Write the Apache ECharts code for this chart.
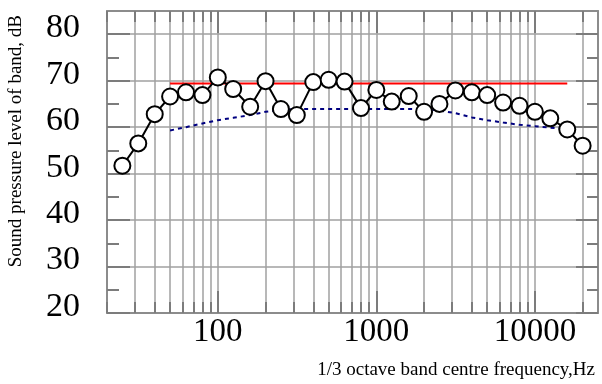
<!DOCTYPE html>
<html>
<head>
<meta charset="utf-8">
<script src="https://cdn.jsdelivr.net/npm/echarts@6/dist/echarts.min.js"></script>
<style>
  html, body { margin: 0; padding: 0; background: #fff; }
  #chart { width: 602px; height: 384px; }
</style>
</head>
<body>
<div id="chart"></div>
<script>
// 1/3 octave band centre frequencies, Hz
var bandFreqs = [25, 31.5, 40, 50, 63, 80, 100, 125, 160, 200, 250, 315, 400, 500, 630,
  800, 1000, 1250, 1600, 2000, 2500, 3150, 4000, 5000, 6300, 8000, 10000, 12500, 16000, 20000];
// Measured band levels, dB
var bandLevels = [51.7, 56.5, 62.8, 66.6, 67.5, 66.9, 70.7, 68.2, 64.4, 69.9, 63.9, 62.6, 69.7, 70.2, 69.8,
  64.1, 68.0, 65.5, 66.7, 63.3, 65.0, 67.9, 67.5, 66.9, 65.3, 64.6, 63.3, 61.9, 59.5, 56.0];

// Upper limit (solid red) across 50 Hz - 16 kHz
var limitFreqs = [50, 16000];
var limitLevels = [69.4, 69.4];

// Lower reference curve (dotted blue), 50 Hz - 16 kHz
var refFreqs = [50, 63, 80, 100, 125, 160, 200, 250, 315, 400, 500, 630, 800, 1000, 1250, 1600, 2000,
  2500, 3150, 4000, 5000, 6300, 8000, 10000, 12500, 16000];
var refLevels = [59.3, 60.0, 60.8, 61.5, 62.0, 62.6, 63.3, 63.7, 63.9, 63.9, 63.9, 63.9, 63.9, 63.9, 63.9, 63.9, 63.9,
  63.6, 63.0, 62.1, 61.5, 61.0, 60.5, 60.2, 59.9, 59.6];

// Axis ticks
var xGridTicks = [20, 30, 40, 50, 60, 70, 80, 90, 100, 200, 300, 400, 500, 600, 700, 800, 900,
  1000, 2000, 3000, 4000, 5000, 6000, 7000, 8000, 9000, 10000, 20000];
var xDecadeTicks = [100, 1000, 10000];
var yMajorTicks = [20, 30, 40, 50, 60, 70, 80];
var yMinorTicks = [25, 35, 45, 55, 65, 75];

function pairs(xs, ys) {
  return xs.map(function (x, i) { return [x, ys[i]]; });
}

var serif = "'Liberation Serif', 'Times New Roman', serif";
var frameColor = '#8c8c8c';
var tickColor = '#7c7c7c';
var gridColor = '#a0a0a0';

function xAxisDef(pos, ticks, len, showLine, showSplit, showLabel) {
  return {
    type: 'log', logBase: 10, min: 20, max: 25000, position: pos,
    axisLine: { show: showLine, onZero: false, lineStyle: { color: frameColor, width: 2 } },
    axisTick: { show: true, inside: true, length: len, customValues: ticks,
      lineStyle: { color: tickColor, width: 2 } },
    splitLine: { show: showSplit, lineStyle: { color: gridColor, width: 1.5 } },
    minorTick: { show: false }, minorSplitLine: { show: false },
    axisLabel: showLabel ? { show: true, customValues: xDecadeTicks, margin: 3,
      fontFamily: serif, fontSize: 33, color: '#000',
      formatter: function (v) { return String(Math.round(v)); } } : { show: false }
  };
}

function yAxisDef(pos, ticks, len, showLine, showSplit, showLabel) {
  return {
    type: 'value', min: 20, max: 85, interval: 10, position: pos,
    axisLine: { show: showLine, onZero: false, lineStyle: { color: frameColor, width: 2 } },
    axisTick: { show: true, inside: true, length: len, customValues: ticks,
      lineStyle: { color: tickColor, width: 2 } },
    splitLine: { show: showSplit, lineStyle: { color: gridColor, width: 1.5 } },
    axisLabel: showLabel ? { show: true, customValues: yMajorTicks, margin: 27,
      fontFamily: serif, fontSize: 34, color: '#000',
      verticalAlign: 'bottom', lineHeight: 12 } : { show: false }
  };
}

var chart = echarts.init(document.getElementById('chart'), null, { renderer: 'canvas' });
chart.setOption({
  animation: false,
  backgroundColor: '#fff',
  grid: { left: 107, right: 4, top: 11, bottom: 71, containLabel: false },
  xAxis: [
    xAxisDef('bottom', xGridTicks, 11, true, true, true),
    xAxisDef('bottom', xDecadeTicks, 22, false, false, false),
    xAxisDef('top', xGridTicks, 11, true, false, false),
    xAxisDef('top', xDecadeTicks, 22, false, false, false)
  ],
  yAxis: [
    yAxisDef('left', yMajorTicks, 23, true, true, true),
    yAxisDef('left', yMinorTicks, 12, false, false, false),
    yAxisDef('right', yMajorTicks, 22, true, false, false),
    yAxisDef('right', yMinorTicks, 11, false, false, false)
  ],
  graphic: [
    {
      type: 'text', left: 7, top: 15,
      style: { text: 'Sound pressure level of band, dB', font: '19px ' + serif, fill: '#000' },
      rotation: Math.PI / 2
    },
    {
      type: 'text', right: 7, top: 361,
      style: { text: '1/3 octave band centre frequency,Hz', font: '19px ' + serif, fill: '#000' }
    }
  ],
  series: [
    {
      name: 'limit', type: 'line', data: pairs(limitFreqs, limitLevels),
      showSymbol: false, symbol: 'none', z: 2,
      lineStyle: { color: '#ff0000', width: 2 }
    },
    {
      name: 'reference', type: 'line', data: pairs(refFreqs, refLevels),
      showSymbol: false, symbol: 'none', z: 2,
      lineStyle: { color: '#000080', width: 2, type: [4, 4] }
    },
    {
      name: 'measured', type: 'line', data: pairs(bandFreqs, bandLevels),
      symbol: 'circle', symbolSize: 16, z: 5,
      lineStyle: { color: '#000', width: 2 },
      itemStyle: { color: '#fff', borderColor: '#000', borderWidth: 2 }
    }
  ]
});
</script>
</body>
</html>
